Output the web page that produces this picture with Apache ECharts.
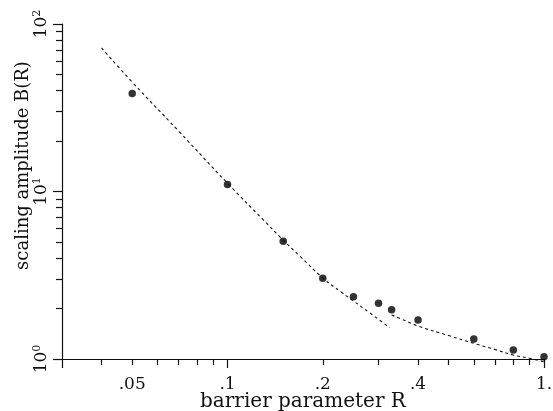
<!DOCTYPE html>
<html><head><meta charset="utf-8">
<script src="https://cdn.jsdelivr.net/npm/echarts@6/dist/echarts.min.js"></script>
<style>html,body{margin:0;padding:0;background:#fff}#c{width:553px;height:411px}</style>
</head><body><div id="c"></div>
<script>
// measured points (barrier parameter R, scaling amplitude B)
const pointR = [0.05, 0.1, 0.15, 0.2, 0.25, 0.3, 0.33, 0.4, 0.6, 0.8, 1.0];
const pointB = [38.4, 11.0, 5.04, 3.03, 2.35, 2.15, 1.97, 1.71, 1.316, 1.13, 1.03];
// small-R asymptote (dashed)
const fitLowR = [0.04, 0.05, 0.07, 0.1, 0.13, 0.15, 0.17, 0.2, 0.23, 0.25, 0.28, 0.325];
const fitLowB = [72, 45, 23, 11.2, 6.75, 5.12, 4.08, 3.05, 2.49, 2.22, 1.9, 1.54];
// large-R asymptote (dashed)
const fitHighR = [0.33, 0.35, 0.4, 0.5, 0.6, 0.7, 0.8, 0.9, 1.0];
const fitHighB = [1.83, 1.75, 1.574, 1.38, 1.24, 1.14, 1.056, 1.01, 0.963];
// axes
const xLabelValues = [0.05, 0.1, 0.2, 0.4, 1];
const xLabelTexts = ['.05', '.1', '.2', '.4', '1.'];
const xMinorTicks = [0.04, 0.05, 0.06, 0.07, 0.08, 0.09, 0.2, 0.3, 0.4, 0.5, 0.6, 0.7, 0.8, 0.9];
const xMajorTicks = [0.03, 0.1, 1];
const yLabelValues = [1, 10, 100];
const yLabelExps = ['0', '1', '2'];
const yMinorTicks = [2, 3, 4, 5, 6, 7, 8, 9, 20, 30, 40, 50, 60, 70, 80, 90];
const yMajorTicks = [1, 10, 100];

const FONT = '"DejaVu Serif", "Liberation Serif", serif';
const INK = '#111';

function findIdx(arr, v) {
  for (let i = 0; i < arr.length; i++) {
    if (Math.abs(arr[i] - v) <= 1e-6 * Math.max(1, Math.abs(v))) return i;
  }
  return -1;
}
const zip = (a, b) => a.map((v, i) => [v, b[i]]);

const chart = echarts.init(document.getElementById('c'), null, {renderer: 'canvas'});
chart.setOption({
  animation: false,
  backgroundColor: '#fff',
  grid: {left: 62, right: 9, top: 24, bottom: 52, containLabel: false, outerBoundsMode: 'none'},
  xAxis: [{
    type: 'log', logBase: 10, min: 0.03, max: 1, position: 'bottom',
    axisLine: {show: true, lineStyle: {color: INK, width: 1.2}},
    axisTick: {show: true, inside: false, length: 6, customValues: xMinorTicks, lineStyle: {color: INK, width: 1.2}},
    minorTick: {show: false},
    splitLine: {show: false},
    axisLabel: {
      customValues: xLabelValues,
      formatter: v => { const i = findIdx(xLabelValues, v); return i >= 0 ? xLabelTexts[i] : ''; },
      margin: 17, fontSize: 17, fontFamily: FONT, color: INK
    },
    name: 'barrier parameter R', nameLocation: 'middle', nameGap: 33, nameMoveOverlap: false,
    nameTextStyle: {fontSize: 20, fontFamily: FONT, color: INK}
  }, {
    type: 'log', logBase: 10, min: 0.03, max: 1, position: 'bottom',
    axisLine: {show: false},
    axisTick: {show: true, inside: false, length: 9, customValues: xMajorTicks, lineStyle: {color: INK, width: 1.2}},
    axisLabel: {show: false}, splitLine: {show: false}
  }],
  yAxis: [{
    type: 'log', logBase: 10, min: 1, max: 100, position: 'left',
    axisLine: {show: true, lineStyle: {color: INK, width: 1.2}},
    axisTick: {show: true, inside: false, length: 6, customValues: yMinorTicks, lineStyle: {color: INK, width: 1.2}},
    minorTick: {show: false},
    splitLine: {show: false},
    axisLabel: {
      customValues: yLabelValues,
      rotate: 90,
      margin: 10,
      formatter: v => { const i = findIdx(yLabelValues, v); return i >= 0 ? '{b|10}{s|' + yLabelExps[i] + '}' : ''; },
      rich: {
        b: {fontSize: 17, fontFamily: FONT, color: INK, lineHeight: 20},
        s: {fontSize: 11, fontFamily: FONT, color: INK, verticalAlign: 'top', lineHeight: 20}
      }
    },
    name: 'scaling amplitude B(R)', nameLocation: 'middle', nameGap: 30, nameMoveOverlap: false,
    nameTextStyle: {fontSize: 18, fontFamily: FONT, color: INK, padding: [0, 0, 0, 52]}
  }, {
    type: 'log', logBase: 10, min: 1, max: 100, position: 'left',
    axisLine: {show: false},
    axisTick: {show: true, inside: false, length: 9, customValues: yMajorTicks, lineStyle: {color: INK, width: 1.2}},
    axisLabel: {show: false}, splitLine: {show: false}
  }],
  series: [{
    type: 'line', xAxisIndex: 0, yAxisIndex: 0, data: zip(fitLowR, fitLowB),
    symbol: 'none', smooth: true, clip: false,
    lineStyle: {color: INK, width: 1.1, type: [3, 3]}
  }, {
    type: 'line', xAxisIndex: 0, yAxisIndex: 0, data: zip(fitHighR, fitHighB),
    symbol: 'none', smooth: true, clip: false,
    lineStyle: {color: INK, width: 1.1, type: [3, 3]}
  }, {
    type: 'scatter', xAxisIndex: 0, yAxisIndex: 0, data: zip(pointR, pointB),
    symbol: 'circle', symbolSize: 7.5, clip: false,
    itemStyle: {color: '#000'}
  }]
});
</script></body></html>
